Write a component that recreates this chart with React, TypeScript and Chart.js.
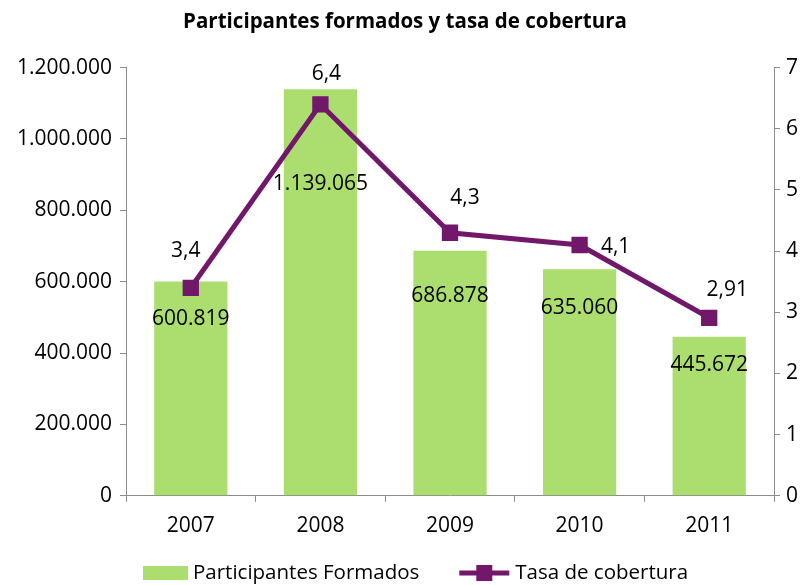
import React, { useEffect, useRef } from "react";
import { Chart, registerables } from "chart.js";

Chart.register(...registerables);

const years = ["2007", "2008", "2009", "2010", "2011"];
const participantes = [600819, 1139065, 686878, 635060, 445672];
const tasa = [3.4, 6.4, 4.3, 4.1, 2.91];
const tasaLabels = ["3,4", "6,4", "4,3", "4,1", "2,91"];
const titleText = "Participantes formados y tasa de cobertura";
const barName = "Participantes Formados";
const lineName = "Tasa de cobertura";

const FONT = "Open Sans";
const GREEN = "#ABDD6F";
const PURPLE = "#72186B";
const AXIS = "#8C8C8C";

function fmt(n: number): string {
  return Math.round(n).toString().replace(/\B(?=(\d{3})+(?!\d))/g, ".");
}

const labelPlugin = {
  id: "labels",
  afterDatasetsDraw(chart: any) {
    const ctx = chart.ctx;
    ctx.save();
    ctx.font = `21px "${FONT}"`;
    ctx.fillStyle = "#000";
    ctx.textAlign = "center";
    ctx.textBaseline = "middle";
    const barMeta = chart.getDatasetMeta(1);
    const barOff = [38, 95, 45, 39, 28];
    barMeta.data.forEach((el: any, i: number) => {
      ctx.fillText(fmt(participantes[i]), el.x, el.y + barOff[i]);
    });
    const lineMeta = chart.getDatasetMeta(0);
    const lineOff = [
      [-5, -37],
      [6, -30],
      [15, -35],
      [36, 2],
      [18, -28],
    ];
    lineMeta.data.forEach((el: any, i: number) => {
      ctx.fillText(tasaLabels[i], el.x + lineOff[i][0], el.y + lineOff[i][1]);
    });
    ctx.restore();
  },
  afterDraw(chart: any) {
    const ctx = chart.ctx;
    ctx.save();
    const y = 573;
    ctx.font = `20.5px "${FONT}"`;
    ctx.textBaseline = "middle";
    ctx.textAlign = "left";
    let x = 143;
    ctx.fillStyle = GREEN;
    ctx.fillRect(x, y - 7, 45, 14);
    x += 50;
    ctx.fillStyle = "#000";
    ctx.fillText(barName, x, y);
    x += ctx.measureText(barName).width + 40;
    ctx.strokeStyle = PURPLE;
    ctx.lineWidth = 5;
    ctx.beginPath();
    ctx.moveTo(x, y);
    ctx.lineTo(x + 50, y);
    ctx.stroke();
    ctx.fillStyle = PURPLE;
    ctx.fillRect(x + 25 - 8, y - 8, 16, 16);
    x += 56;
    ctx.fillStyle = "#000";
    ctx.fillText(lineName, x, y);
    ctx.restore();
  },
};

export default function App() {
  const ref = useRef<HTMLCanvasElement>(null);
  useEffect(() => {
    document.body.style.margin = "0";
    const chart = new Chart(ref.current!, {
      type: "bar",
      data: {
        labels: years,
        datasets: [
          {
            type: "line",
            label: lineName,
            data: tasa,
            yAxisID: "y1",
            borderColor: PURPLE,
            backgroundColor: PURPLE,
            borderWidth: 5,
            pointStyle: "rect",
            pointRadius: 8,
            pointBackgroundColor: PURPLE,
            pointBorderColor: PURPLE,
            tension: 0,
            order: 0,
          } as any,
          {
            type: "bar",
            label: barName,
            data: participantes,
            yAxisID: "y",
            backgroundColor: GREEN,
            categoryPercentage: 0.565,
            barPercentage: 1,
            order: 1,
          },
        ],
      },
      options: {
        animation: false,
        responsive: false,
        layout: { padding: { left: 0, right: 0, top: 0, bottom: 34 } },
        plugins: {
          legend: { display: false },
          tooltip: { enabled: false },
          title: {
            display: true,
            text: titleText,
            color: "#000",
            font: { family: FONT, size: 20.5, weight: "bold" },
            padding: { top: 10, bottom: 33 },
          },
        },
        scales: {
          x: {
            offset: true,
            grid: {
              offset: true,
              display: true,
              drawOnChartArea: false,
              drawTicks: true,
              tickLength: 6,
              color: AXIS,
            },
            border: { color: AXIS, width: 1 },
            ticks: { color: "#000", font: { family: FONT, size: 21 }, padding: 12 },
          },
          y: {
            position: "left",
            min: 0,
            max: 1200000,
            afterFit: (s: any) => {
              s.width = 126;
            },
            grid: {
              display: true,
              drawOnChartArea: false,
              tickLength: 6,
              color: AXIS,
            },
            border: { color: AXIS, width: 1 },
            ticks: {
              stepSize: 200000,
              color: "#000",
              font: { family: FONT, size: 21 },
              padding: 8,
              callback: (v: any) => fmt(Number(v)),
            },
          },
          y1: {
            position: "right",
            min: 0,
            max: 7,
            afterFit: (s: any) => {
              s.width = 36;
            },
            grid: {
              display: true,
              drawOnChartArea: false,
              tickLength: 6,
              color: AXIS,
            },
            border: { color: AXIS, width: 1 },
            ticks: {
              stepSize: 1,
              color: "#000",
              font: { family: FONT, size: 21 },
              padding: 6,
            },
          },
        },
      },
      plugins: [labelPlugin],
    });
    return () => chart.destroy();
  }, []);
  return <canvas ref={ref} width={810} height={585} />;
}
